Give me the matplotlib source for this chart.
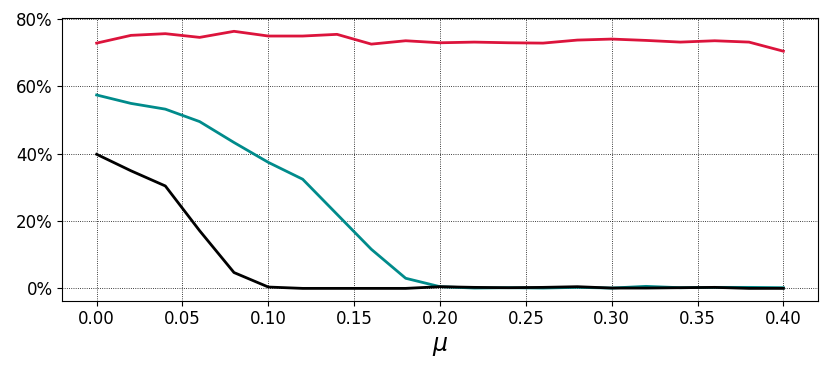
import matplotlib
matplotlib.use('Agg')
import matplotlib.pyplot as plt
from matplotlib.ticker import PercentFormatter
import numpy as np

plt.rcParams['font.family'] = ['DejaVu Sans']

# mu values
mu = [0.00, 0.02, 0.04, 0.06, 0.08, 0.10, 0.12, 0.14, 0.16, 0.18, 0.20,
      0.22, 0.24, 0.26, 0.28, 0.30, 0.32, 0.34, 0.36, 0.38, 0.40]

# series (percent)
red_vals = [72.8, 75.1, 75.6, 74.5, 76.3, 74.9, 74.9, 75.4, 72.5, 73.5, 72.9,
            73.1, 72.9, 72.8, 73.7, 74.0, 73.6, 73.1, 73.5, 73.1, 70.4]
teal_vals = [57.4, 54.9, 53.2, 49.5, 43.3, 37.4, 32.4, 22.0, 11.6, 3.0, 0.5,
             0.1, 0.2, 0.1, 0.3, 0.1, 0.6, 0.2, 0.3, 0.3, 0.2]
black_vals = [39.8, 34.9, 30.4, 17.1, 4.7, 0.4, 0.0, 0.0, 0.0, 0.0, 0.5,
              0.3, 0.2, 0.3, 0.5, 0.1, 0.1, 0.2, 0.3, 0.0, 0.0]

fig, ax = plt.subplots(figsize=(8.31, 3.71), dpi=100)

ax.plot(mu, np.array(red_vals) / 100, color='crimson', lw=2)
ax.plot(mu, np.array(teal_vals) / 100, color='darkcyan', lw=2)
ax.plot(mu, np.array(black_vals) / 100, color='black', lw=2)

ax.yaxis.set_major_formatter(PercentFormatter(1.0, decimals=0))
ax.set_yticks([0, 0.2, 0.4, 0.6, 0.8])
ax.set_xticks([0.0, 0.05, 0.1, 0.15, 0.2, 0.25, 0.3, 0.35, 0.4])
ax.set_xlim(-0.02, 0.42)
ax.set_ylim(-0.036, 0.802)
ax.grid(True, color='black', linestyle=':', linewidth=0.6)
ax.tick_params(labelsize=12)
ax.set_xlabel(r'$\mu$', fontsize=17)

fig.subplots_adjust(left=0.075, right=0.984, top=0.951, bottom=0.19)
fig.savefig('out.png', dpi=100)
